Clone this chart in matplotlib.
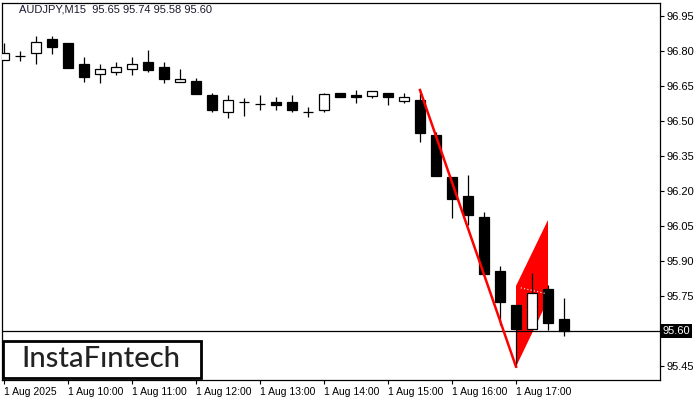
import matplotlib
matplotlib.use("Agg")
import matplotlib.pyplot as plt
from matplotlib.patches import Rectangle, Polygon

# 15-minute candles, 1 Aug 2025 09:00 .. 17:45
opens = [96.761, 96.779, 96.790, 96.850, 96.833, 96.744, 96.700, 96.711, 96.722, 96.753,
         96.730, 96.668, 96.671, 96.611, 96.540, 96.580, 96.573, 96.581, 96.581, 96.540,
         96.547, 96.621, 96.613, 96.608, 96.619, 96.587, 96.590, 96.440, 96.260, 96.179,
         96.088, 95.857, 95.711, 95.607, 95.780, 95.650]
highs = [96.834, 96.800, 96.864, 96.864, 96.833, 96.773, 96.744, 96.752, 96.773, 96.804,
         96.753, 96.722, 96.683, 96.620, 96.611, 96.600, 96.611, 96.602, 96.611, 96.559,
         96.621, 96.621, 96.633, 96.630, 96.619, 96.619, 96.633, 96.454, 96.260, 96.268,
         96.110, 95.878, 95.711, 95.850, 95.797, 95.740]
lows = [96.761, 96.757, 96.744, 96.787, 96.728, 96.668, 96.662, 96.697, 96.698, 96.711,
        96.661, 96.668, 96.617, 96.540, 96.511, 96.523, 96.547, 96.547, 96.540, 96.519,
        96.540, 96.602, 96.578, 96.597, 96.569, 96.578, 96.409, 96.266, 96.085, 96.054,
        95.845, 95.626, 95.447, 95.607, 95.604, 95.580]
closes = [96.791, 96.779, 96.840, 96.818, 96.728, 96.690, 96.722, 96.730, 96.744, 96.719,
          96.681, 96.681, 96.617, 96.547, 96.589, 96.580, 96.573, 96.570, 96.547, 96.540,
          96.614, 96.602, 96.602, 96.630, 96.602, 96.602, 96.450, 96.266, 96.167, 96.098,
          95.845, 95.725, 95.610, 95.764, 95.635, 95.600]

# bearish flag: pole and flag corners (candle index, price)
pole_x = [26, 32]
pole_y = [96.633, 95.447]
flag_x = [32, 32, 34, 34]
flag_y = [95.447, 95.793, 96.076, 95.733]

yticks = [95.45, 95.75, 95.90, 96.05, 96.20, 96.35, 96.50, 96.65, 96.80, 96.95]
xtick_pos = [0, 4, 8, 12, 16, 20, 24, 28, 32]
xtick_labels = ["1 Aug 2025", "1 Aug 10:00", "1 Aug 11:00", "1 Aug 12:00", "1 Aug 13:00",
                "1 Aug 14:00", "1 Aug 15:00", "1 Aug 16:00", "1 Aug 17:00"]
last_price = 95.60
title = "AUDJPY,M15  95.65 95.74 95.58 95.60"

plt.rcParams['font.family'] = ['Liberation Sans', 'DejaVu Sans']

fig = plt.figure(figsize=(7, 4), dpi=100)
ax = fig.add_axes([2 / 700, 20 / 400, 658 / 700, 377 / 400])
ax.set_xlim(-0.125, 41)
ax.set_ylim(95.39, 97.006)

# flag body (under candles)
ax.add_patch(Polygon(list(zip(flag_x, flag_y)), closed=True, facecolor="#ff0000",
                     edgecolor="none", zorder=1))

x = list(range(len(opens)))
ax.vlines(x, lows, highs, color="black", linewidth=0.9, zorder=2)
bottoms = [min(o, c) for o, c in zip(opens, closes)]
heights = [max(abs(c - o), 0.0005) for o, c in zip(opens, closes)]
colors = ["white" if c > o else "black" for o, c in zip(opens, closes)]
ax.bar(x, heights, bottom=bottoms, width=0.62, color=colors, edgecolor="black",
       linewidth=0.9, zorder=3)

# pole line (over candles)
ax.plot(pole_x, pole_y, color="#ff0000", linewidth=1.8, zorder=4)
ax.plot([32.3, 33.9], [95.785, 95.760], color="white", linewidth=0.8, linestyle=(0, (1, 2)), zorder=4)

ax.axhline(last_price, color="black", linewidth=0.9, zorder=2)

ax.yaxis.tick_right()
ax.set_yticks(yticks)
ax.set_yticklabels([f"{v:.2f}" for v in yticks], fontsize=8)
ax.set_xticks(xtick_pos)
ax.set_xticklabels(xtick_labels, fontsize=7.5, ha="left")
ax.tick_params(axis="both", direction="out", length=3, width=0.8, pad=2, colors="black")
for s in ax.spines.values():
    s.set_linewidth(0.9)

ax.text(1.004, last_price, f"{last_price:.2f}", transform=ax.get_yaxis_transform(),
        fontsize=8, color="white", va="center", ha="left",
        bbox=dict(boxstyle="square,pad=0.15", facecolor="black", edgecolor="none"))

fig.text(19 / 700, 1 - 10 / 400, title, fontsize=8, color="#1a1a2e", va="center", ha="left")

# logo
fig.patches.append(Rectangle((3 / 700, 22 / 400), 198 / 700, 37 / 400, transform=fig.transFigure,
                             facecolor="white", edgecolor="black", linewidth=2, zorder=5))
fig.text(101 / 700, 1 - 359 / 400, "InstaF\u0131ntech", fontsize=21, family="Lato",
         fontweight="medium", color="#222222", va="center", ha="center", zorder=6)

fig.savefig("out.png", dpi=100)
